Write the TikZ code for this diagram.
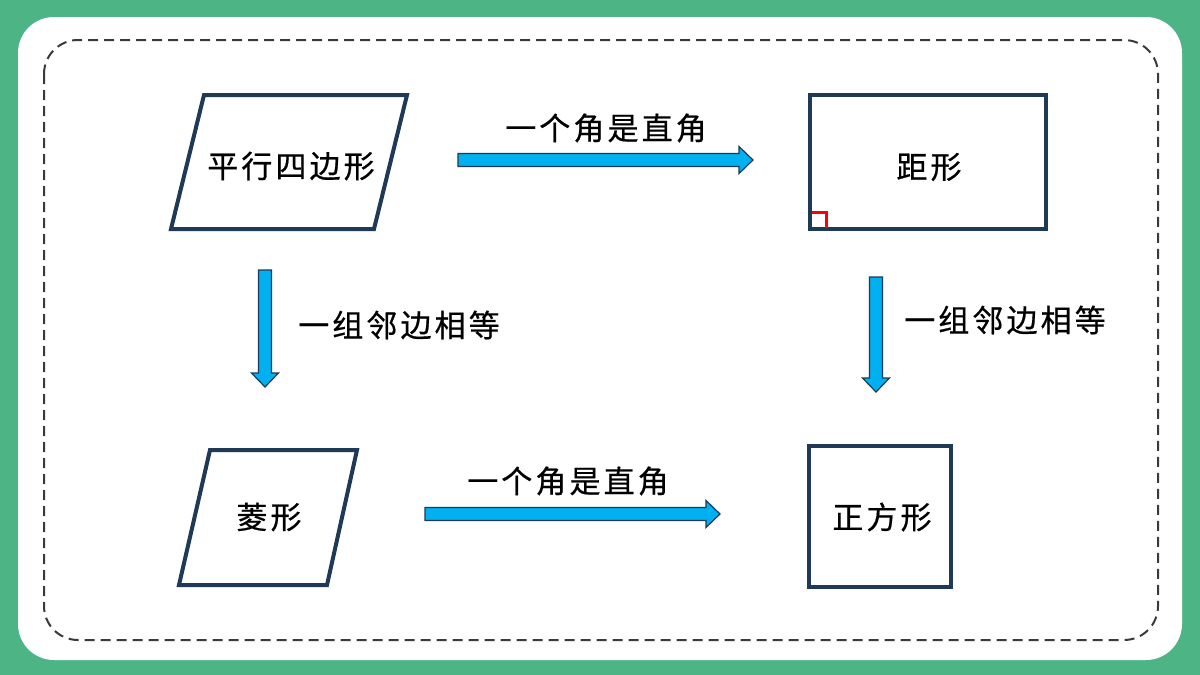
\documentclass[tikz,border=0pt]{standalone}
\usepackage{fontspec}
\setmainfont{Noto Sans CJK SC}[LetterSpace=10, FakeBold=0.6]
\usetikzlibrary{calc}
\definecolor{bggreen}{HTML}{4DB486}
\definecolor{navy}{HTML}{1F3A56}
\definecolor{arrowblue}{HTML}{00B0F0}
\definecolor{dashgray}{HTML}{3A3A3A}
\tikzset{
  shapeline/.style={draw=navy, line width=4pt, line join=miter, fill=white},
  lbl/.style={font=\fontsize{31}{31}\selectfont, inner sep=0pt},
  blockarrow/.style={draw=navy, line width=1.2pt, fill=arrowblue, line join=miter},
}
\newcommand{\harrowdraw}[2]{%
  \draw[blockarrow] ($(#1)+(0,-6.5)$) -- ($(#2)+(-14,-6.5)$) -- ($(#2)+(-14,-13.5)$) -- (#2)
   -- ($(#2)+(-14,13.5)$) -- ($(#2)+(-14,6.5)$) -- ($(#1)+(0,6.5)$) -- cycle;}
\newcommand{\varrowdraw}[2]{%
  \draw[blockarrow] ($(#1)+(-6.5,0)$) -- ($(#2)+(-6.5,-14)$) -- ($(#2)+(-13.5,-14)$) -- (#2)
   -- ($(#2)+(13.5,-14)$) -- ($(#2)+(6.5,-14)$) -- ($(#1)+(6.5,0)$) -- cycle;}
\begin{document}
\begin{tikzpicture}[x=1pt,y=-1pt]
\useasboundingbox (0,0) rectangle (1200,675);
\fill[bggreen] (0,0) rectangle (1200,675);
\fill[white] (18,17) [rounded corners=36pt] rectangle (1182,660);
\draw[dashgray, line width=2pt, dash pattern=on 10pt off 6pt, rounded corners=34pt] (44,40) rectangle (1158,640);

% shapes
\draw[shapeline] (204,95) -- (407,95) -- (374,229) -- (171,229) -- cycle;
\node[lbl] (para) at (291,166) {平行四边形};

\draw[shapeline] (810,95) rectangle (1046,229);
\node[lbl] (rect) at (929,167) {距形};
\draw[red, line width=3pt, line cap=butt] (811.5,212) -- (826,212) -- (826,227.5);

\draw[shapeline] (210,450) -- (357,450) -- (327,585) -- (179,585) -- cycle;
\node[lbl] (rhom) at (269,517) {菱形};

\draw[shapeline] (809,446) rectangle (951,587);
\node[lbl] (sq) at (882,517) {正方形};

% arrows
\coordinate (a1s) at (458,160); \coordinate (a1e) at (753,160);
\harrowdraw{a1s}{a1e}
\node[lbl] (l1) at (606,128) {一个角是直角};

\coordinate (a2s) at (265,270); \coordinate (a2e) at (265,387);
\varrowdraw{a2s}{a2e}
\node[lbl] (l2) at (399,325) {一组邻边相等};

\coordinate (a3s) at (876,277); \coordinate (a3e) at (876,392);
\varrowdraw{a3s}{a3e}
\node[lbl] (l3) at (1005,320) {一组邻边相等};

\coordinate (a4s) at (425,514); \coordinate (a4e) at (720,514);
\harrowdraw{a4s}{a4e}
\node[lbl] (l4) at (568,481) {一个角是直角};
\end{tikzpicture}
\end{document}
